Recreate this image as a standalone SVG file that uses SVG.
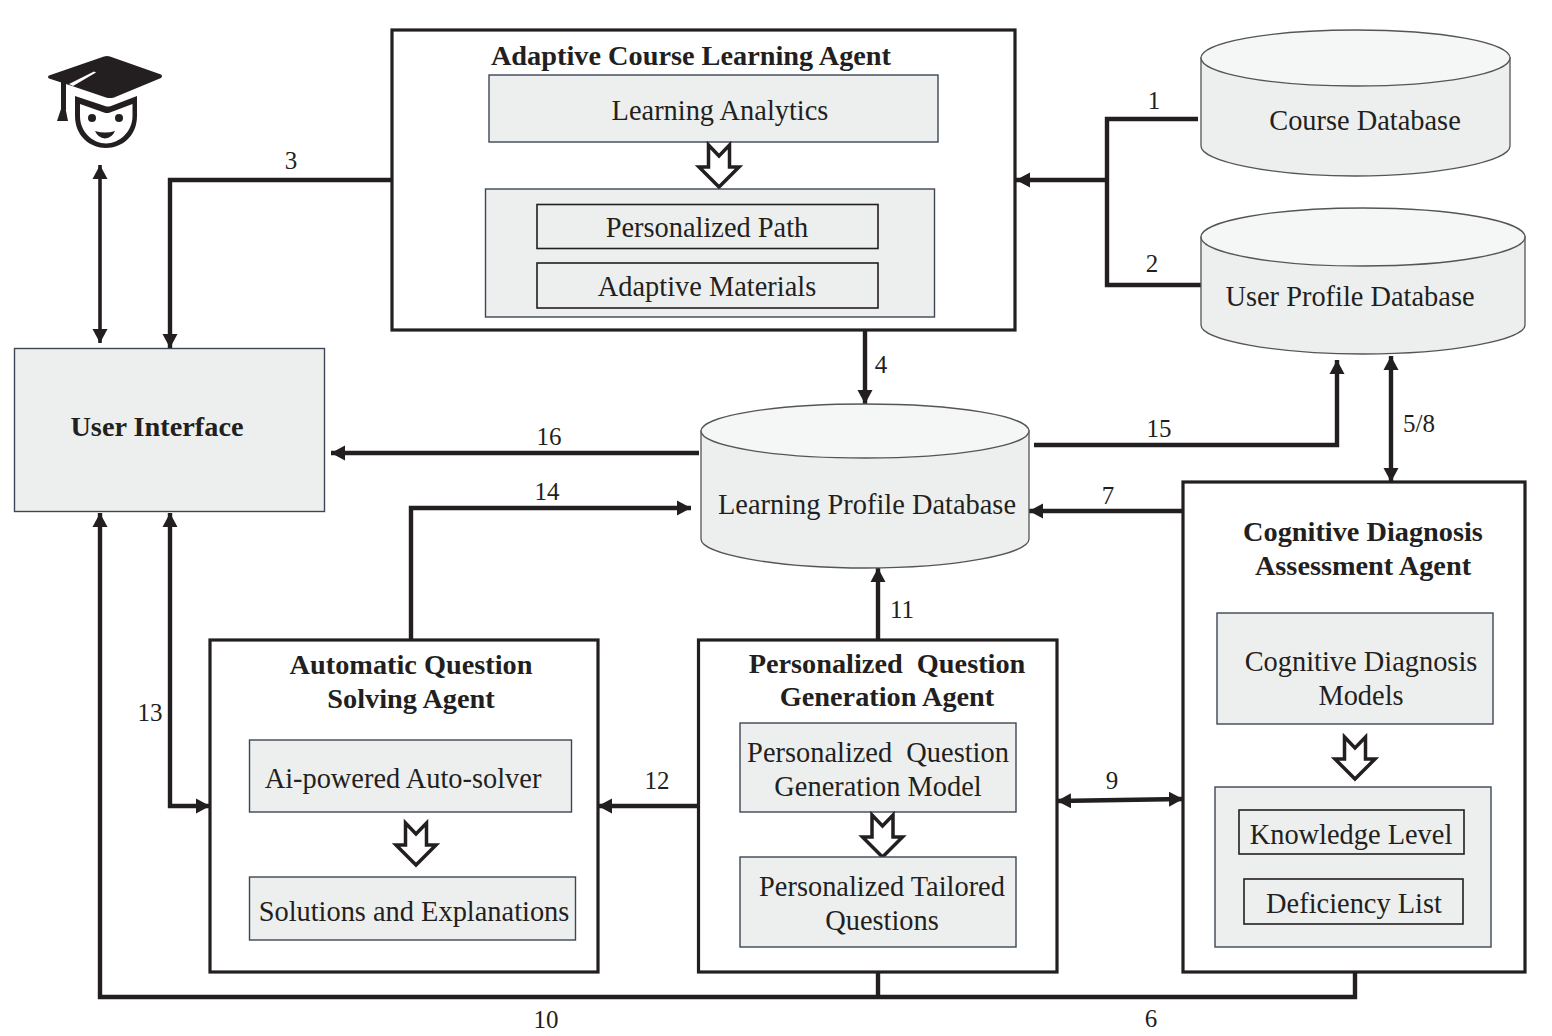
<svg xmlns="http://www.w3.org/2000/svg" width="1552" height="1036" viewBox="0 0 1552 1036">
<style>
text{font-family:"Liberation Serif","Times New Roman",serif;fill:#231f20;text-anchor:middle}
.t{font-size:28.4px}
.b{font-size:28.3px;font-weight:bold}
.n{font-size:25px}
.agent{fill:#fff;stroke:#231f20;stroke-width:3.2}
.box{fill:#edefee;stroke:#3d4657;stroke-width:1.4}
.inner{fill:#edefee;stroke:#231f20;stroke-width:1.6}
.db{fill:#edefee;stroke:#555;stroke-width:1.3}
.top{fill:#f5f6f6;stroke:#555;stroke-width:1.3}
.c{fill:none;stroke:#231f20;stroke-width:4.400}
.c2{fill:none;stroke:#231f20;stroke-width:3.600}
.hollow{fill:#fff;stroke:#231f20;stroke-width:3.500;stroke-miterlimit:10}
.ink{fill:#231f20}
</style>
<defs>
<marker id="a" markerUnits="userSpaceOnUse" markerWidth="15" markerHeight="16" refX="14" refY="8" orient="auto-start-reverse" viewBox="0 0 15 16"><path d="M0 0.500L14 8L0 15.500Z" fill="#231f20"/></marker>
<path id="hol" d="M-10.500 -20L0 -9L10.500 -20V2H20L0 22L-20 2H-10.500Z"/>
</defs>
<g id="connectors">
<path class="c2" d="M100 165V343" marker-start="url(#a)" marker-end="url(#a)"/>
<path class="c" d="M392 180H170V348" marker-end="url(#a)"/>
<path class="c" d="M1198 119H1107V285H1201"/>
<path class="c" d="M1107 180H1016" marker-end="url(#a)"/>
<path class="c" d="M865 330V404" marker-end="url(#a)"/>
<path class="c" d="M699 453H331" marker-end="url(#a)"/>
<path class="c" d="M1034 445H1337V360" marker-end="url(#a)"/>
<path class="c" d="M1391 356V482" marker-start="url(#a)" marker-end="url(#a)"/>
<path class="c" d="M1183 511H1029" marker-end="url(#a)"/>
<path class="c" d="M411 640V508H691" marker-end="url(#a)"/>
<path class="c" d="M878 640V568" marker-end="url(#a)"/>
<path class="c" d="M698 806H598" marker-end="url(#a)"/>
<path class="c" d="M1057 801L1183 799" marker-start="url(#a)" marker-end="url(#a)"/>
<path class="c" d="M170 513V806H210" marker-start="url(#a)" marker-end="url(#a)"/>
<path class="c" d="M878 973V997"/>
<path class="c" d="M1355 973V997H100V513" marker-end="url(#a)"/>
</g>
<g id="student">
<path class="ink" d="M104 56.500L49 75.500Q47 77 49 78.500L72 86L106 97.500Q110 98.500 114 97.500L161 78Q163 76 161 74.500L110 56.500Q107 55.500 104 56.500Z"/>
<path fill="#fff" d="M69 84L94 71.500L96 72.500L73 86Z"/>
<rect class="ink" x="61" y="80" width="5" height="30"/>
<path class="ink" d="M62 106H65L68 121H57Z"/>
<path class="ink" d="M75 96L105 106Q108 107 111 106L137 96V116C137 136 122 148 106 148C90 148 75 136 75 116Z"/>
<path fill="#fff" d="M80 104L104 112.500Q107 113.500 110 112.500L132.500 104V116C132.500 132 119 143.500 106 143.500C93 143.500 80 132 80 116Z"/>
<circle class="ink" cx="92" cy="118" r="4"/><circle class="ink" cx="119" cy="118" r="4"/>
<path class="ink" d="M95 131Q105 134 115 131Q112 138 105 138.500Q98 138 95 131Z"/>
</g>
<g id="user-interface">
<rect class="box" x="14.500" y="348.500" width="310" height="163"/>
<text class="b" x="157" y="435.500">User Interface</text>
</g>
<g id="adaptive-agent">
<rect class="agent" x="392" y="30" width="623" height="300"/>
<text class="b" x="691" y="64.500">Adaptive Course Learning Agent</text>
<rect class="box" x="489" y="75" width="449" height="67"/>
<text class="t" x="720" y="119.500">Learning Analytics</text>
<use href="#hol" class="hollow" x="719" y="165"/>
<rect class="box" x="485.500" y="189" width="449" height="128"/>
<rect class="inner" x="537" y="204.500" width="341" height="44"/>
<text class="t" x="707" y="236.500">Personalized Path</text>
<rect class="inner" x="537" y="263" width="341" height="45"/>
<text class="t" x="707" y="295.500">Adaptive Materials</text>
</g>
<g id="course-db">
<path class="db" d="M1201 58V146C1201 161 1270 176 1355 176C1440 176 1510 161 1510 146V58Z"/>
<ellipse class="top" cx="1355.500" cy="58" rx="154.500" ry="28"/>
<text class="t" x="1365" y="129.500">Course Database</text>
</g>
<g id="user-profile-db">
<path class="db" d="M1201 237V325C1201 340 1275 354 1363 354C1450 354 1525 340 1525 325V237Z"/>
<ellipse class="top" cx="1363" cy="237" rx="162" ry="29"/>
<text class="t" x="1350" y="305.500">User Profile Database</text>
</g>
<g id="learning-profile-db">
<path class="db" d="M701 431V539C701 554 775 568 865 568C955 568 1029 554 1029 539V431Z"/>
<ellipse class="top" cx="865" cy="431" rx="164" ry="27"/>
<text class="t" x="867" y="513.500">Learning Profile Database</text>
</g>
<g id="cognitive-agent">
<rect class="agent" x="1183" y="482" width="342" height="490"/>
<text class="b" x="1363" y="540.500">Cognitive Diagnosis</text>
<text class="b" x="1363" y="574.500">Assessment Agent</text>
<rect class="box" x="1217" y="613" width="276" height="111"/>
<text class="t" x="1361" y="670.500">Cognitive Diagnosis</text>
<text class="t" x="1361" y="704.500">Models</text>
<use href="#hol" class="hollow" x="1355" y="757"/>
<rect class="box" x="1215" y="787" width="276" height="160"/>
<rect class="inner" x="1239" y="810" width="225" height="44"/>
<text class="t" x="1351" y="843.500">Knowledge Level</text>
<rect class="inner" x="1244" y="879" width="219" height="45"/>
<text class="t" x="1354" y="912.500">Deficiency List</text>
</g>
<g id="solving-agent">
<rect class="agent" x="210" y="640" width="388" height="332"/>
<text class="b" x="411" y="673.500">Automatic Question</text>
<text class="b" x="411" y="707.500">Solving Agent</text>
<rect class="box" x="249.500" y="740" width="322" height="72"/>
<text class="t" x="403" y="787.500">Ai-powered Auto-solver</text>
<use href="#hol" class="hollow" x="416" y="843"/>
<rect class="box" x="249.500" y="877" width="326" height="63"/>
<text class="t" x="414" y="920.500">Solutions and Explanations</text>
</g>
<g id="generation-agent">
<rect class="agent" x="698.500" y="640" width="358.500" height="332"/>
<text class="b" x="887" y="672.500" xml:space="preserve">Personalized  Question</text>
<text class="b" x="887" y="706">Generation Agent</text>
<rect class="box" x="740" y="723" width="276" height="89"/>
<use href="#hol" class="hollow" x="882.500" y="835"/>
<text class="t" x="878" y="762" xml:space="preserve">Personalized  Question</text>
<text class="t" x="878" y="796">Generation Model</text>
<rect class="box" x="740" y="857" width="276" height="90"/>
<text class="t" x="882" y="895.500">Personalized Tailored</text>
<text class="t" x="882" y="929.500">Questions</text>
</g>
<g id="labels">
<text class="n" x="1154" y="108.500">1</text>
<text class="n" x="1152" y="272">2</text>
<text class="n" x="291" y="168.500">3</text>
<text class="n" x="881" y="372.500">4</text>
<text class="n" x="1419" y="431.500">5/8</text>
<text class="n" x="1151" y="1027">6</text>
<text class="n" x="1108" y="503.500">7</text>
<text class="n" x="1112" y="788.500">9</text>
<text class="n" x="546" y="1028">10</text>
<text class="n" x="902" y="617.500">11</text>
<text class="n" x="657" y="788.500">12</text>
<text class="n" x="150" y="720.500">13</text>
<text class="n" x="547" y="500">14</text>
<text class="n" x="1159" y="436.500">15</text>
<text class="n" x="549" y="445">16</text>
</g>
</svg>
